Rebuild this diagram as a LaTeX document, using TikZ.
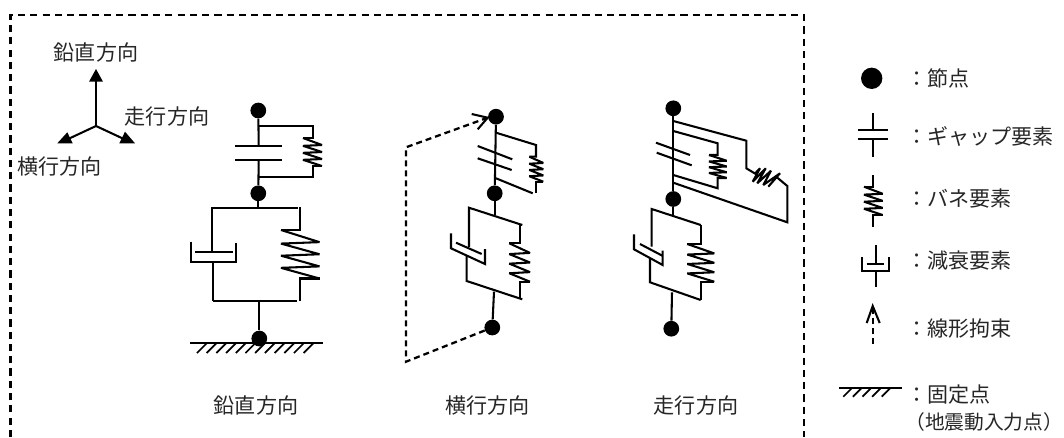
\documentclass[tikz,border=0pt]{standalone}
\usepackage{fontspec}
\setmainfont{Noto Sans CJK JP}
\newcommand{\zigspring}[4]{% left x, top y, right x, bottom y
  \draw[ln] (#1,#2)
    -- (#3,{#2+(#4-#2)*0.25}) -- (#1,{#2+(#4-#2)*0.28})
    -- (#3,{#2+(#4-#2)*0.5}) -- (#1,{#2+(#4-#2)*0.53})
    -- (#3,{#2+(#4-#2)*0.75}) -- (#1,{#2+(#4-#2)*0.78})
    -- (#3,#4);}
\newcommand{\hatchrow}[5]{% first bottom x, step, count-1, top y, bottom y
  \foreach \i in {0,...,#3}{\draw[thin ln] ({#1+#2*\i},#5) -- ({#1+#2*\i+(#5-#4)},#4);}}
\tikzset{
  ln/.style={line width=1.55pt,line cap=butt,line join=miter,miter limit=3},
  thin ln/.style={line width=1.3pt},
  dot/.style={circle,fill=black,inner sep=0pt,minimum size=11.8pt},
  bigdot/.style={circle,fill=black,inner sep=0pt,minimum size=16pt},
  txt/.style={font=\fontsize{15.8pt}{18pt}\selectfont,text=black!85,inner sep=0pt},
  dash ln/.style={line width=1.9pt,dash pattern=on 5.4pt off 3.8pt},
  cdash/.style={line width=1.7pt,dash pattern=on 4.5pt off 3pt},
  head/.style={fill=black,draw=none},
}
\begin{document}
\begin{tikzpicture}[x=0.75pt,y=-0.75pt]
\useasboundingbox (0,0) rectangle (1064,437);
% frame
\coordinate (fa) at (10.7,437); \coordinate (fb) at (10.7,15);
\coordinate (fc) at (804,15); \coordinate (fd) at (804,437);
\draw[dash ln] (fa) -- (fb) -- (fc) -- (fd);
% axes
\coordinate (o) at (96,126);
\coordinate (up) at (96,80); \coordinate (lf) at (66,140); \coordinate (rt) at (126,140);
\draw[ln] (o) -- (up); \draw[ln] (o) -- (lf); \draw[ln] (o) -- (rt);
\fill[head] (96,69) -- (103,81.7) -- (89,81.7) -- cycle;
\fill[head] (57.3,143.3) -- (72.7,143.3) -- (67.3,132.3) -- cycle;
\fill[head] (135,143.3) -- (119.3,143.3) -- (125,131.7) -- cycle;
\node[txt] (t1) at (96,52) {鉛直方向};
\node[txt] (t2) at (167,116.7) {走行方向};
\node[txt] (t3) at (59.3,166.7) {横行方向};

% ---- vertical model
\node[dot] (a1) at (258.3,110.5) {};
\node[dot] (a2) at (258.3,193.3) {};
\node[dot] (a3) at (259.3,338.5) {};
\coordinate (a1p) at (258.7,146); \coordinate (a2p) at (258.7,160.3);
\draw[ln] (a1) -- (a1p); \draw[ln] (a2p) -- (a2);
\draw[ln] (235,146) -- (282,146); \draw[ln] (235,160.3) -- (282,160.3);
\draw[ln] (258.7,125.7) -- (313.3,125.7) -- (313.3,138) -- (303,138);
\zigspring{303}{138}{322}{166}
\draw[ln] (322,166) -- (313.3,166) -- (313.3,177) -- (258.7,177);
\coordinate (a2b) at (258.3,207.7);
\draw[ln] (a2) -- (a2b);
\draw[ln] (298,207.7) -- (212,207.7) -- (212,252);
\draw[ln] (195,252) -- (232.7,252);
\draw[ln] (190.7,241.7) -- (190.7,262) -- (236,262) -- (236,243);
\draw[ln] (213.3,262) -- (213.3,300.7);
\draw[ln] (297,300.7) -- (213.3,300.7);
\draw[ln] (300,207) -- (300,230) -- (281,230);
\zigspring{281}{230}{319.5}{278.5}
\draw[ln] (319.5,278.5) -- (300,278.5) -- (300,301);
\coordinate (a3b) at (259.3,300.7);
\draw[ln] (a3b) -- (a3);
\draw[ln] (190,343.3) -- (323,343.3);
\hatchrow{197}{9.7}{11}{343.3}{353}

% ---- transverse model
\node[dot] (b1) at (496,116.7) {};
\node[dot] (b2) at (494.7,193.3) {};
\node[dot] (b3) at (492.3,327.5) {};
\coordinate (bc1) at (406,147.3); \coordinate (bc2) at (406,361.7);
\coordinate (btip) at (487.7,117.7);
\draw[cdash] (b3) -- (bc2) -- (bc1) -- (btip);
\draw[ln] (471.7,114) -- (btip) -- (477.7,129.3);
\draw[ln] (b1) -- (b2);
\draw[ln] (477.7,146) -- (512.3,159.3); \draw[ln] (477.7,158.3) -- (511.7,170);
\draw[ln] (496,132.7) -- (536,145) -- (536,156.7) -- (529.3,156.7);
\zigspring{529.3}{156.7}{543.3}{181.7}
\draw[ln] (543.3,181.7) -- (536,181.7) -- (536,193.3);
\draw[ln] (496,178.3) -- (532.7,193.3);
\coordinate (b2b) at (494.7,215);
\draw[ln] (b2) -- (b2b);
\draw[ln] (522.3,225) -- (469,207.7) -- (469,247);
\draw[ln] (456,242.7) -- (481.7,254);
\draw[ln] (451,233.3) -- (451,248.3) -- (485,264) -- (485,249);
\draw[ln] (522.3,299.3) -- (466.7,281) -- (466.7,255.7);
\draw[ln] (520,225) -- (520,243.3) -- (509.3,243.3);
\zigspring{509.3}{243.3}{530}{281.7}
\draw[ln] (530,281.7) -- (520,281.7) -- (520,298.5);
\coordinate (b3b) at (494,291.7);
\draw[ln] (b3b) -- (b3);

% ---- travel model
\node[dot] (c1) at (673.3,108.3) {};
\node[dot] (c2) at (673.3,199) {};
\node[dot] (c3) at (671.3,328.7) {};
\draw[ln] (c1) -- (c2);
\draw[ln] (656,142.7) -- (690,155); \draw[ln] (656.7,152.7) -- (691.7,165.3);
\draw[ln] (673.3,131) -- (717.7,143.3) -- (717.7,155) -- (709,155);
\zigspring{709}{155}{726.7}{178}
\draw[ln] (726.7,178) -- (717.7,178) -- (717.7,188.3) -- (673.3,175);
\draw[ln] (673.3,121) -- (746.3,140.7) -- (746.3,168.3) -- (755,173.5) -- (760,168.3)
  -- (752.7,181.7) -- (765.7,168.3) -- (757.3,183.3) -- (771,170.7) -- (763.3,185)
  -- (780,173.3) -- (768.3,186.7) -- (776.5,177) -- (787.3,186) -- (787.3,222.3) -- (673.3,182.7);
\coordinate (c2b) at (673.3,216);
\draw[ln] (c2) -- (c2b);
\draw[ln] (700.7,225) -- (651.7,209) -- (651.7,246.7);
\draw[ln] (640,244) -- (662.3,255.7);
\draw[ln] (634,234.3) -- (634,249.3) -- (662.7,265) -- (662.7,250.7);
\draw[ln] (700.7,300) -- (650,282.3) -- (650,258.3);
\draw[ln] (700.7,225) -- (700.7,244) -- (687.3,244);
\zigspring{687.3}{244}{714.3}{281.7}
\draw[ln] (714.3,281.7) -- (700.7,281.7) -- (700.7,300);
\coordinate (c3b) at (672,292.3);
\draw[ln] (c3b) -- (c3);

% captions
\node[txt] (l1) at (256,405) {鉛直方向};
\node[txt] (l2) at (487.5,405) {横行方向};
\node[txt] (l3) at (696,405) {走行方向};

% ---- legend
\node[bigdot] (k1) at (871.7,78.3) {};
\node[txt,anchor=west] (k1t) at (906,78) {：節点};
\draw[ln] (873,113.3) -- (873,130); \draw[ln] (873,139.3) -- (873,156.7);
\draw[ln] (857.7,130) -- (888,130); \draw[ln] (857.7,139.3) -- (888,139.3);
\node[txt,anchor=west] (k2t) at (906,136.7) {：ギャップ要素};
\draw[ln] (873,175) -- (873,186.7) -- (864,186.7);
\zigspring{864}{186.7}{882.7}{215}
\draw[ln] (882.7,215) -- (873,215) -- (873,226.7);
\node[txt,anchor=west] (k3t) at (906,198) {：バネ要素};
\draw[ln] (875.7,245) -- (875.7,264.3); \draw[ln] (866.7,264.3) -- (884,264.3);
\draw[ln] (861.7,257) -- (861.7,271) -- (889.3,271) -- (889.3,257);
\draw[ln] (875.7,271) -- (875.7,286.7);
\node[txt,anchor=west] (k4t) at (906,260) {：減衰要素};
\coordinate (k5a) at (872.7,344); \coordinate (k5b) at (872.7,306);
\draw[cdash] (k5a) -- (k5b);
\draw[ln] (866.7,323) -- (k5b) -- (879.7,323);
\node[txt,anchor=west] (k5t) at (906,329) {：線形拘束};
\draw[ln] (839.3,387.7) -- (902.3,387.7);
\hatchrow{843.3}{9.6}{4}{387.7}{396.7}
\node[txt,anchor=west] (k6t) at (906,395) {：固定点};
\node[txt,anchor=west,font=\fontsize{14.8pt}{18pt}\selectfont] (k6u) at (905,421.7) {（地震動入力点）};
\end{tikzpicture}
\end{document}
